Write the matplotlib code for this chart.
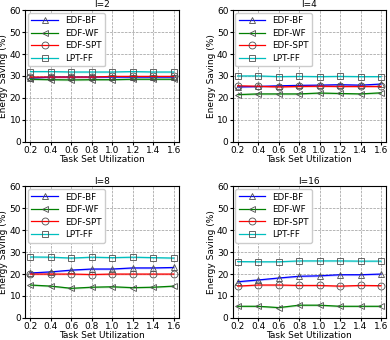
import numpy as np
import matplotlib
matplotlib.use("Agg")
import matplotlib.pyplot as plt

# utilisation levels on the x axis
util = [0.2, 0.4, 0.6, 0.8, 1.0, 1.2, 1.4, 1.6]
titles = ["l=2", "l=4", "l=8", "l=16"]
names = ["EDF-BF", "EDF-WF", "EDF-SPT", "LPT-FF"]

# energy saving (%) per panel, per method
bf_2 = [29.0, 29.5, 29.5, 29.5, 29.5, 29.5, 29.5, 29.5]
wf_2 = [28.5, 28.3, 28.2, 28.3, 28.3, 28.5, 28.5, 28.5]
spt_2 = [29.5, 29.5, 29.5, 29.5, 29.8, 29.8, 29.8, 29.8]
lpt_2 = [32.0, 32.0, 31.8, 31.8, 31.8, 32.0, 31.8, 31.8]

bf_4 = [25.0, 25.2, 25.5, 25.7, 25.8, 26.0, 25.8, 26.3]
wf_4 = [21.5, 21.8, 21.8, 21.8, 22.2, 22.0, 21.8, 22.3]
spt_4 = [25.5, 25.3, 25.0, 25.2, 25.3, 25.2, 25.2, 25.2]
lpt_4 = [30.0, 30.0, 29.7, 29.8, 29.7, 29.8, 29.7, 29.7]

bf_8 = [20.5, 21.0, 21.8, 22.3, 22.3, 22.8, 22.8, 23.0]
wf_8 = [15.0, 14.5, 13.5, 14.0, 14.2, 13.8, 14.0, 14.5]
spt_8 = [20.0, 20.0, 20.0, 19.8, 20.0, 20.0, 20.0, 20.0]
lpt_8 = [27.8, 27.7, 27.3, 27.7, 27.5, 27.7, 27.5, 27.3]

bf_16 = [16.5, 17.3, 18.2, 19.0, 19.2, 19.7, 19.7, 20.0]
wf_16 = [5.3, 5.3, 4.7, 5.8, 5.8, 5.3, 5.3, 5.3]
spt_16 = [14.5, 15.0, 15.0, 14.8, 14.8, 14.5, 14.8, 14.7]
lpt_16 = [25.7, 25.6, 25.6, 26.0, 26.0, 26.0, 25.9, 25.9]

# half width of the shaded band, one per method
band = [0.4, 0.4, 0.4, 0.4]

panels = [[bf_2, wf_2, spt_2, lpt_2],
          [bf_4, wf_4, spt_4, lpt_4],
          [bf_8, wf_8, spt_8, lpt_8],
          [bf_16, wf_16, spt_16, lpt_16]]
colors = ["b", "g", "r", "c"]
markers = ["^", "<", "o", "s"]

plt.rcParams["font.size"] = 7
fig, axes = plt.subplots(2, 2, figsize=(3.9, 3.4), dpi=100)
fig.subplots_adjust(left=0.065, right=0.99, top=0.97, bottom=0.065,
                    wspace=0.35, hspace=0.34)

for ax, title, series in zip(axes.flat, titles, panels):
    for y, name, c, m, b in zip(series, names, colors, markers, band):
        y = np.array(y)
        ax.fill_between(util, y - b, y + b, color=c, alpha=0.25, lw=0)
        ax.plot(util, y, color=c, lw=0.9, marker=m, markersize=5,
                markerfacecolor="none", markeredgecolor="0.3",
                markeredgewidth=0.6, label=name)
    ax.set_title(title, fontsize=6.5, pad=2)
    ax.set_ylim(0, 60)
    ax.set_xlim(0.15, 1.65)
    ax.set_xticks(util)
    ax.set_yticks(range(0, 61, 10))
    ax.grid(True, ls="--", color="0.6", lw=0.5)
    ax.tick_params(labelsize=6.5, length=2, pad=1)
    ax.set_xlabel("Task Set Utilization", fontsize=6.5, labelpad=0)
    ax.set_ylabel("Energy Saving (%)", fontsize=6.5, labelpad=1)
    ax.legend(loc="upper left", fontsize=6.3, handlelength=3.0,
              borderpad=0.4, labelspacing=0.4, borderaxespad=0.3,
              framealpha=1)

plt.savefig("out.png")
